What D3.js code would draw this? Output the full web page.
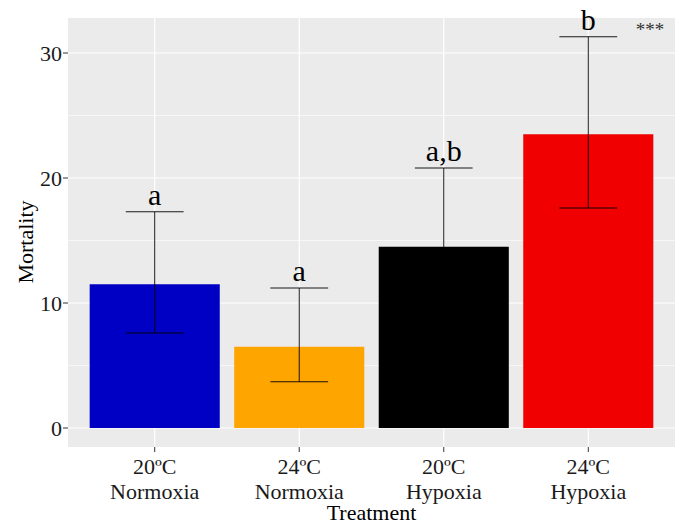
<!DOCTYPE html>
<html lang="en">
  <head>
    <meta charset="utf-8">
    <title>Mortality by treatment</title>
    <style>
      body { margin: 0; background: #fff; }
      svg { display: block; }
    </style>
  </head>
  <body>
    <svg width="678" height="526"></svg>
    <script src="https://d3js.org/d3.v7.min.js"></script>
    <script>
      // data
      const temps = ["20ºC", "24ºC", "20ºC", "24ºC"];
      const oxygen = ["Normoxia", "Normoxia", "Hypoxia", "Hypoxia"];
      const mortality = [11.5, 6.5, 14.5, 23.5];
      const lower = [7.6, 3.7, 10.2, 17.6];
      const upper = [17.3, 11.2, 20.8, 31.3];
      const letters = ["a", "a", "a,b", "b"];
      const colors = ["#0000C4", "#FFA500", "#000000", "#F00000"];
      const yTicks = [0, 10, 20, 30];

      const keys = temps.map((t, i) => i);
      const font = "'Liberation Serif', 'Times New Roman', serif";

      const svg = d3.select("svg");
      const pLeft = 68, pRight = 675, pTop = 18, pBottom = 447;

      // ggplot-like discrete axis: bars 0.9 of a step, 0.6 step expansion
      const x = d3.scaleBand()
        .domain(keys)
        .range([pLeft, pRight])
        .paddingInner(0.1)
        .paddingOuter(0.15);
      const xc = i => x(i) + x.bandwidth() / 2;
      const capW = x.step() * 0.4;

      const y = d3.scaleLinear()
        .domain([-1.52, 32.8])
        .range([pBottom, pTop]);

      // panel
      svg.append("rect")
        .attr("x", pLeft).attr("y", pTop)
        .attr("width", pRight - pLeft).attr("height", pBottom - pTop)
        .attr("fill", "#EBEBEB");

      // minor grid
      svg.append("g").selectAll("line")
        .data([5, 15, 25])
        .join("line")
          .attr("x1", pLeft).attr("x2", pRight)
          .attr("y1", d => y(d)).attr("y2", d => y(d))
          .attr("stroke", "#fff").attr("stroke-width", 0.6);

      // major grid
      svg.append("g").selectAll("line")
        .data(yTicks)
        .join("line")
          .attr("x1", pLeft).attr("x2", pRight)
          .attr("y1", d => y(d)).attr("y2", d => y(d))
          .attr("stroke", "#fff").attr("stroke-width", 1.2);

      svg.append("g").selectAll("line")
        .data(keys)
        .join("line")
          .attr("x1", d => xc(d)).attr("x2", d => xc(d))
          .attr("y1", pTop).attr("y2", pBottom)
          .attr("stroke", "#fff").attr("stroke-width", 1.2);

      // bars
      svg.append("g").selectAll("rect")
        .data(keys)
        .join("rect")
          .attr("x", d => x(d))
          .attr("width", x.bandwidth())
          .attr("y", d => y(mortality[d]))
          .attr("height", d => y(0) - y(mortality[d]))
          .attr("fill", d => colors[d]);

      // error bars
      const err = svg.append("g")
        .attr("stroke", "#000")
        .attr("stroke-width", 0.9);
      err.selectAll("line.v")
        .data(keys)
        .join("line")
          .attr("class", "v")
          .attr("x1", d => xc(d)).attr("x2", d => xc(d))
          .attr("y1", d => y(lower[d])).attr("y2", d => y(upper[d]));
      err.selectAll("line.hi")
        .data(keys)
        .join("line")
          .attr("class", "hi")
          .attr("x1", d => xc(d) - capW / 2).attr("x2", d => xc(d) + capW / 2)
          .attr("y1", d => y(upper[d])).attr("y2", d => y(upper[d]));
      err.selectAll("line.lo")
        .data(keys)
        .join("line")
          .attr("class", "lo")
          .attr("x1", d => xc(d) - capW / 2).attr("x2", d => xc(d) + capW / 2)
          .attr("y1", d => y(lower[d])).attr("y2", d => y(lower[d]));

      // significance letters
      svg.append("g").selectAll("text")
        .data(keys)
        .join("text")
          .attr("x", d => xc(d))
          .attr("y", d => y(upper[d]) - 7)
          .attr("text-anchor", "middle")
          .attr("font-family", font)
          .attr("font-size", 30)
          .attr("fill", "#000")
          .text(d => letters[d]);

      svg.append("text")
        .attr("x", 650).attr("y", 36)
        .attr("text-anchor", "middle")
        .attr("font-family", font)
        .attr("font-size", 19)
        .attr("fill", "#333")
        .text("***");

      // y axis
      const yAxis = svg.append("g");
      yAxis.selectAll("line")
        .data(yTicks)
        .join("line")
          .attr("x1", pLeft - 5).attr("x2", pLeft)
          .attr("y1", d => y(d)).attr("y2", d => y(d))
          .attr("stroke", "#333").attr("stroke-width", 1);
      yAxis.selectAll("text")
        .data(yTicks)
        .join("text")
          .attr("x", pLeft - 6)
          .attr("y", d => y(d) + 8)
          .attr("text-anchor", "end")
          .attr("font-family", font)
          .attr("font-size", 22)
          .attr("fill", "#1a1a1a")
          .text(d => d);

      // x axis
      const xAxis = svg.append("g");
      xAxis.selectAll("line")
        .data(keys)
        .join("line")
          .attr("x1", d => xc(d)).attr("x2", d => xc(d))
          .attr("y1", pBottom).attr("y2", pBottom + 5)
          .attr("stroke", "#333").attr("stroke-width", 1);
      xAxis.selectAll("text.t")
        .data(keys)
        .join("text")
          .attr("class", "t")
          .attr("x", d => xc(d))
          .attr("y", 474)
          .attr("text-anchor", "middle")
          .attr("font-family", font)
          .attr("font-size", 22)
          .attr("fill", "#1a1a1a")
          .text(d => temps[d]);
      xAxis.selectAll("text.o")
        .data(keys)
        .join("text")
          .attr("class", "o")
          .attr("x", d => xc(d))
          .attr("y", 499)
          .attr("text-anchor", "middle")
          .attr("font-family", font)
          .attr("font-size", 22)
          .attr("fill", "#1a1a1a")
          .text(d => oxygen[d]);

      svg.append("text")
        .attr("x", (pLeft + pRight) / 2)
        .attr("y", 520)
        .attr("text-anchor", "middle")
        .attr("font-family", font)
        .attr("font-size", 22)
        .attr("fill", "#000")
        .text("Treatment");

      svg.append("text")
        .attr("transform", "translate(33,242) rotate(-90)")
        .attr("text-anchor", "middle")
        .attr("font-family", font)
        .attr("font-size", 22)
        .attr("fill", "#000")
        .text("Mortality");
    </script>
  </body>
</html>
